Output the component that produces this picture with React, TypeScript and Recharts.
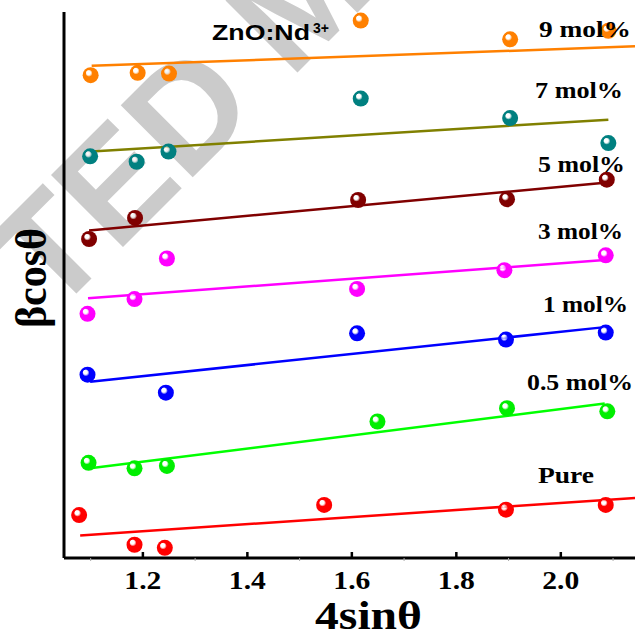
import React from 'react'
import { ComposedChart, Line, Scatter, XAxis, YAxis } from 'recharts'

// measured points (x = 4sinθ, y = βcosθ in arbitrary units)
const pureX = [1.078, 1.184, 1.242, 1.547, 1.895, 2.086]
const pureY = [0.55, 0.17, 0.13, 0.68, 0.62, 0.68]
const halfX = [1.096, 1.184, 1.246, 1.649, 1.897, 2.089]
const halfY = [1.22, 1.15, 1.18, 1.75, 1.92, 1.88]
const oneX = [1.094, 1.244, 1.61, 1.895, 2.086]
const oneY = [2.35, 2.12, 2.88, 2.8, 2.89]
const threeX = [1.094, 1.184, 1.246, 1.61, 1.892, 2.086]
const threeY = [3.13, 3.32, 3.84, 3.45, 3.69, 3.88]
const fiveX = [1.097, 1.185, 1.612, 1.897, 2.088]
const fiveY = [4.09, 4.36, 4.59, 4.6, 4.85]
const sevenX = [1.099, 1.188, 1.249, 1.617, 1.903, 2.091]
const sevenY = [5.15, 5.08, 5.21, 5.89, 5.64, 5.32]
const nineX = [1.1, 1.19, 1.25, 1.617, 1.903, 2.091]
const nineY = [6.19, 6.22, 6.21, 6.89, 6.65, 6.76]

// linear fit end points
const pureFitX = [1.08, 2.142]
const pureFitY = [0.29, 0.77]
const halfFitX = [1.099, 2.084]
const halfFitY = [1.15, 1.98]
const oneFitX = [1.099, 2.084]
const oneFitY = [2.26, 2.96]
const threeFitX = [1.095, 2.084]
const threeFitY = [3.33, 3.82]
const fiveFitX = [1.097, 2.084]
const fiveFitY = [4.2, 4.81]
const sevenFitX = [1.102, 2.091]
const sevenFitY = [5.21, 5.62]
const nineFitX = [1.102, 2.142]
const nineFitY = [6.31, 6.56]

const xTicks = [1.1, 1.2, 1.3, 1.4, 1.5, 1.6, 1.7, 1.8, 1.9, 2.0, 2.1]
const yTicks = [1, 2, 3, 4, 5, 6]

const toPts = (xs: number[], ys: number[]) => xs.map((x, i) => ({ x, y: ys[i] }))

const series = [
	{ id: 'pure', pts: toPts(pureX, pureY), fit: toPts(pureFitX, pureFitY), dot: '#ff0000', line: '#ff0000' },
	{ id: 'half', pts: toPts(halfX, halfY), fit: toPts(halfFitX, halfFitY), dot: '#00ee00', line: '#00ff00' },
	{ id: 'one', pts: toPts(oneX, oneY), fit: toPts(oneFitX, oneFitY), dot: '#0000ff', line: '#0000ff' },
	{ id: 'three', pts: toPts(threeX, threeY), fit: toPts(threeFitX, threeFitY), dot: '#ff00ff', line: '#ff00ff' },
	{ id: 'five', pts: toPts(fiveX, fiveY), fit: toPts(fiveFitX, fiveFitY), dot: '#800000', line: '#800000' },
	{ id: 'seven', pts: toPts(sevenX, sevenY), fit: toPts(sevenFitX, sevenFitY), dot: '#008080', line: '#808000' },
	{ id: 'nine', pts: toPts(nineX, nineY), fit: toPts(nineFitX, nineFitY), dot: '#ff8000', line: '#ff8000' },
]

const labels = [
	{ text: '9 mol%', x: 539, y: 37, w: 92 },
	{ text: '7 mol%', x: 535, y: 98, w: 88 },
	{ text: '5 mol%', x: 538, y: 172, w: 87 },
	{ text: '3 mol%', x: 538, y: 239, w: 85 },
	{ text: '1 mol%', x: 543, y: 312, w: 85 },
	{ text: '0.5 mol%', x: 527, y: 390, w: 106 },
	{ text: 'Pure', x: 538, y: 483, w: 56 },
]

const serif = '"Liberation Serif", "Times New Roman", serif'
const sans = '"Liberation Sans", Arial, sans-serif'

const Ball = (id: string) => (props: any) => {
	const { cx, cy } = props
	if (cx == null || cy == null) return null
	return <circle cx={cx} cy={cy} r={8} fill={`url(#ball-${id})`} />
}

const XTick = (props: any) => {
	const { x, y, payload } = props
	const v = payload.value
	const major = Math.round(v * 10) % 2 === 0
	if (!major) {
		return <line x1={x} y1={y} x2={x} y2={y + 3} stroke="#aaa" strokeWidth={1} />
	}
	return (
		<g>
			<line x1={x} y1={y} x2={x} y2={y - 6} stroke="#000" strokeWidth={2.5} />
			<text
				x={x}
				y={y + 31}
				textAnchor="middle"
				fontFamily={serif}
				fontWeight="bold"
				fontSize={26}
				textLength={37}
				lengthAdjust="spacingAndGlyphs"
				fill="#000"
			>
				{v.toFixed(1)}
			</text>
		</g>
	)
}

const App = () => {
	const abs: React.CSSProperties = { position: 'absolute', left: 0, top: 0 }
	return (
		<div style={{ ...abs, width: 635, height: 637, overflow: 'hidden', background: '#fff' }}>
			<svg width={635} height={637} style={abs}>
				<defs>
					{series.map((s) => (
						<radialGradient key={s.id} id={`ball-${s.id}`} cx="0.5" cy="0.5" r="0.55" fx="0.33" fy="0.3">
							<stop offset="0" stopColor="#fff" />
							<stop offset="0.22" stopColor="#fff" stopOpacity={0.6} />
							<stop offset="0.4" stopColor={s.dot} />
							<stop offset="1" stopColor={s.dot} />
						</radialGradient>
					))}
				</defs>
				<text
					x={52}
					y={318}
					transform="rotate(-45 52 318)"
					fontFamily={sans}
					fontWeight="bold"
					fontSize={148}
					fill="#cbcbcb"
				>
					TED M
				</text>
			</svg>
			<div style={abs}>
				<ComposedChart width={635} height={637} margin={{ top: 12, right: 0, bottom: 0, left: 0 }}>
					<XAxis
						xAxisId="bottom"
						type="number"
						dataKey="x"
						domain={[1.049, 2.142]}
						allowDataOverflow
						ticks={xTicks}
						interval={0}
						height={79}
						axisLine={{ stroke: '#000', strokeWidth: 3 }}
						tickLine={false}
						tickSize={0}
						tickMargin={0}
						tick={<XTick />}
					/>
					<XAxis
						xAxisId="top"
						orientation="top"
						type="number"
						dataKey="x"
						domain={[1.049, 2.142]}
						allowDataOverflow
						ticks={xTicks}
						interval={0}
						height={0}
						axisLine={{ stroke: '#000', strokeWidth: 3 }}
						tickLine={{ stroke: '#aaa', strokeWidth: 1 }}
						tickSize={3}
						tick={false}
					/>
					<YAxis
						type="number"
						dataKey="y"
						domain={[0, 7]}
						ticks={yTicks}
						width={64}
						axisLine={{ stroke: '#000', strokeWidth: 3 }}
						tickLine={{ stroke: '#bbb', strokeWidth: 1 }}
						tickSize={4}
						tick={false}
					/>
					{series.map((s) => (
						<Scatter
							key={`pts-${s.id}`}
							xAxisId="bottom"
							data={s.pts}
							shape={Ball(s.id)}
							isAnimationActive={false}
						/>
					))}
					{series.map((s) => (
						<Line
							key={`fit-${s.id}`}
							xAxisId="bottom"
							data={s.fit}
							dataKey="y"
							type="linear"
							stroke={s.line}
							strokeWidth={2.5}
							dot={false}
							activeDot={false}
							isAnimationActive={false}
						/>
					))}
				</ComposedChart>
			</div>
			<svg width={635} height={637} style={{ ...abs, pointerEvents: 'none' }}>
				<text x={212} y={40} fontFamily={sans} fontWeight="bold" fontSize={22} fill="#000">
					<tspan textLength={98} lengthAdjust="spacingAndGlyphs">ZnO:Nd</tspan>
					<tspan x={313} y={33} fontSize={14}>3+</tspan>
				</text>
				{labels.map((l) => (
					<text
						key={l.text}
						x={l.x}
						y={l.y}
						fontFamily={serif}
						fontWeight="bold"
						fontSize={24}
						textLength={l.w}
						lengthAdjust="spacingAndGlyphs"
						fill="#000"
					>
						{l.text}
					</text>
				))}
				<text
					x={315}
					y={629}
					fontFamily={serif}
					fontWeight="bold"
					fontSize={39}
					textLength={107}
					lengthAdjust="spacingAndGlyphs"
					fill="#000"
				>
					4sinθ
				</text>
				<text
					x={46}
					y={278}
					transform="rotate(-90 46 278)"
					textAnchor="middle"
					fontFamily={serif}
					fontWeight="bold"
					fontSize={44}
					textLength={100}
					lengthAdjust="spacingAndGlyphs"
					fill="#000"
				>
					βcosθ
				</text>
			</svg>
		</div>
	)
}

export default App
